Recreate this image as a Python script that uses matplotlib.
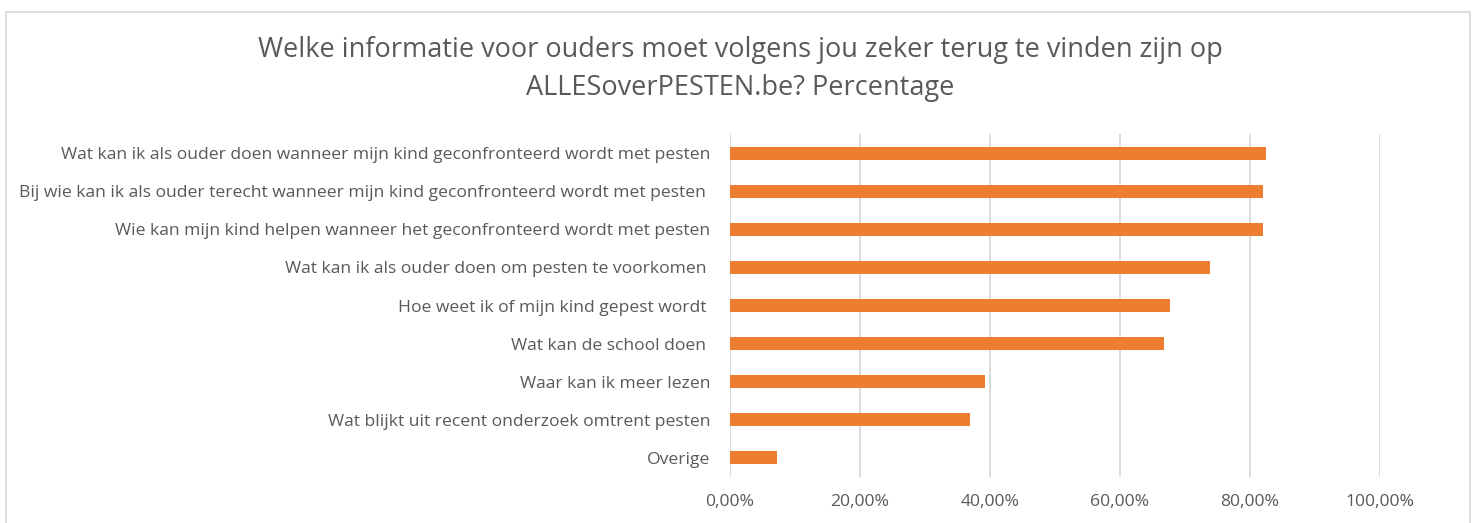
import numpy as np
import matplotlib.pyplot as plt
from matplotlib.patches import Rectangle
from matplotlib.ticker import FuncFormatter

plt.rcParams['font.family'] = ['Open Sans', 'DejaVu Sans']

labels = [
    "Wat kan ik als ouder doen wanneer mijn kind geconfronteerd wordt met pesten",
    "Bij wie kan ik als ouder terecht wanneer mijn kind geconfronteerd wordt met pesten ",
    "Wie kan mijn kind helpen wanneer het geconfronteerd wordt met pesten",
    "Wat kan ik als ouder doen om pesten te voorkomen ",
    "Hoe weet ik of mijn kind gepest wordt ",
    "Wat kan de school doen ",
    "Waar kan ik meer lezen",
    "Wat blijkt uit recent onderzoek omtrent pesten",
    "Overige",
]
values = [82.46, 82.05, 82.05, 73.9, 67.7, 66.7, 39.3, 36.9, 7.2]
ticks = [0, 20, 40, 60, 80, 100]

orange = "#ED7D31"
grey_txt = "#595959"
grid_col = "#D9D9D9"

W, H = 1475, 523
fig = plt.figure(figsize=(W / 100, H / 100), dpi=100)
ax = fig.add_axes([730 / W, 1 - 477 / H, 650 / W, 343 / H])

y = np.arange(len(labels))
ax.barh(y, values, height=0.34, color=orange, zorder=3)
ax.set_ylim(len(labels) - 0.5, -0.5)
ax.set_xlim(0, 100)
ax.set_yticks(y)
ax.set_yticklabels(labels, fontsize=12.6, color=grey_txt)
ax.set_xticks(ticks)
ax.xaxis.set_major_formatter(FuncFormatter(lambda v, p: f"{v:.2f}%".replace(".", ",")))
ax.tick_params(axis='x', length=0, pad=12, labelsize=12.6, labelcolor=grey_txt)
ax.tick_params(axis='y', length=0, pad=14)
ax.grid(axis='x', color=grid_col, linewidth=1.3, zorder=0)
for s in ax.spines.values():
    s.set_visible(False)

fig.text(740 / W, 1 - 50 / H,
         "Welke informatie voor ouders moet volgens jou zeker terug te vinden zijn op",
         ha='center', va='center', fontsize=19.5, color=grey_txt)
fig.text(740 / W, 1 - 88 / H, "ALLESoverPESTEN.be? Percentage",
         ha='center', va='center', fontsize=19.5, color=grey_txt)

fig.patches.append(Rectangle((6 / W, -0.1), 1464 / W, 1.1 - 12 / H,
                             transform=fig.transFigure, fill=False,
                             edgecolor=grid_col, linewidth=1.3))

fig.savefig("out.png", dpi=100)
